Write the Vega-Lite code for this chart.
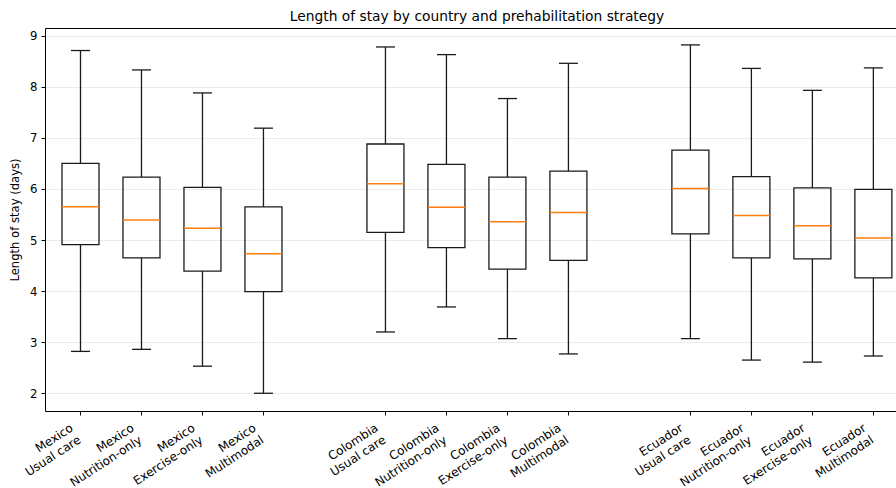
{
  "$schema": "https://vega.github.io/schema/vega-lite/v6.json",
  "width": 851,
  "height": 383,
  "autosize": {"type": "none"},
  "padding": {"left": 45, "top": 28, "right": 0, "bottom": 77},
  "background": "white",
  "title": {
    "text": "Length of stay by country and prehabilitation strategy",
    "font": "DejaVu Sans",
    "fontSize": 13.8,
    "fontWeight": "normal",
    "color": "#000000",
    "anchor": "middle",
    "offset": 4,
    "dx": 6.5
  },
  "config": {
    "view": {"stroke": null},
    "axis": {
      "labelFont": "DejaVu Sans",
      "titleFont": "DejaVu Sans",
      "labelFontSize": 11.7,
      "titleFontSize": 11.6,
      "labelColor": "#000000",
      "titleColor": "#000000",
      "titleFontWeight": "normal",
      "domainColor": "#000000",
      "domainWidth": 1,
      "tickColor": "#000000",
      "tickWidth": 1,
      "tickSize": 4,
      "labelPadding": 4
    }
  },
  "data": {
    "values": [
      {"country": "Mexico", "strategy": "Usual care", "pos": 1, "min": 2.82, "q1": 4.91, "median": 5.65, "q3": 6.50, "max": 8.71},
      {"country": "Mexico", "strategy": "Nutrition-only", "pos": 2, "min": 2.86, "q1": 4.65, "median": 5.39, "q3": 6.23, "max": 8.33},
      {"country": "Mexico", "strategy": "Exercise-only", "pos": 3, "min": 2.53, "q1": 4.39, "median": 5.23, "q3": 6.03, "max": 7.88},
      {"country": "Mexico", "strategy": "Multimodal", "pos": 4, "min": 2.00, "q1": 3.99, "median": 4.73, "q3": 5.65, "max": 7.19},
      {"country": "Colombia", "strategy": "Usual care", "pos": 6, "min": 3.20, "q1": 5.15, "median": 6.10, "q3": 6.88, "max": 8.78},
      {"country": "Colombia", "strategy": "Nutrition-only", "pos": 7, "min": 3.69, "q1": 4.85, "median": 5.64, "q3": 6.48, "max": 8.63},
      {"country": "Colombia", "strategy": "Exercise-only", "pos": 8, "min": 3.07, "q1": 4.43, "median": 5.36, "q3": 6.23, "max": 7.77},
      {"country": "Colombia", "strategy": "Multimodal", "pos": 9, "min": 2.77, "q1": 4.60, "median": 5.54, "q3": 6.35, "max": 8.46},
      {"country": "Ecuador", "strategy": "Usual care", "pos": 11, "min": 3.07, "q1": 5.12, "median": 6.01, "q3": 6.76, "max": 8.82},
      {"country": "Ecuador", "strategy": "Nutrition-only", "pos": 12, "min": 2.65, "q1": 4.65, "median": 5.48, "q3": 6.24, "max": 8.36},
      {"country": "Ecuador", "strategy": "Exercise-only", "pos": 13, "min": 2.61, "q1": 4.63, "median": 5.28, "q3": 6.02, "max": 7.93},
      {"country": "Ecuador", "strategy": "Multimodal", "pos": 14, "min": 2.73, "q1": 4.26, "median": 5.04, "q3": 5.99, "max": 8.37}
    ]
  },
  "resolve": {"axis": {"x": "independent"}},
  "layer": [
    {
      "mark": {"type": "rule", "color": "#1a1a1a", "strokeWidth": 1.3},
      "encoding": {
        "x": {"field": "pos", "type": "quantitative", "scale": {"domain": [0.5, 14.289], "nice": false, "zero": false}, "axis": null},
        "y": {"field": "min", "type": "quantitative", "scale": {"domain": [1.653, 9.151], "nice": false, "zero": false},
              "axis": {"title": "Length of stay (days)", "values": [2, 3, 4, 5, 6, 7, 8, 9], "grid": true, "gridColor": "#ebebeb", "gridWidth": 1, "titlePadding": 9}},
        "y2": {"field": "q1"}
      }
    },
    {
      "mark": {"type": "rule", "color": "#1a1a1a", "strokeWidth": 1.3},
      "encoding": {
        "x": {"field": "pos", "type": "quantitative", "axis": null},
        "y": {"field": "q3", "type": "quantitative",
              "axis": {"title": "Length of stay (days)", "values": [2, 3, 4, 5, 6, 7, 8, 9], "grid": true, "gridColor": "#ebebeb", "gridWidth": 1, "titlePadding": 9}},
        "y2": {"field": "max"}
      }
    },
    {
      "mark": {"type": "tick", "orient": "horizontal", "color": "#1a1a1a", "size": 19, "thickness": 1.3, "opacity": 1},
      "encoding": {
        "x": {"field": "pos", "type": "quantitative", "axis": null},
        "y": {"field": "min", "type": "quantitative",
              "axis": {"title": "Length of stay (days)", "values": [2, 3, 4, 5, 6, 7, 8, 9], "grid": true, "gridColor": "#ebebeb", "gridWidth": 1, "titlePadding": 9}}
      }
    },
    {
      "mark": {"type": "tick", "orient": "horizontal", "color": "#1a1a1a", "size": 19, "thickness": 1.3, "opacity": 1},
      "encoding": {
        "x": {"field": "pos", "type": "quantitative", "axis": null},
        "y": {"field": "max", "type": "quantitative",
              "axis": {"title": "Length of stay (days)", "values": [2, 3, 4, 5, 6, 7, 8, 9], "grid": true, "gridColor": "#ebebeb", "gridWidth": 1, "titlePadding": 9}}
      }
    },
    {
      "mark": {"type": "bar", "size": 37, "fill": null, "fillOpacity": 0, "stroke": "#1a1a1a", "strokeWidth": 1.3},
      "encoding": {
        "x": {"field": "pos", "type": "quantitative",
              "axis": {"orient": "bottom", "title": null, "grid": false, "values": [1, 2, 3, 4, 6, 7, 8, 9, 11, 12, 13, 14],
                       "labelAngle": -33, "labelAlign": "right", "labelBaseline": "top", "labelOffset": -12, "labelLineHeight": 14.3,
                       "labelFontSize": 12, "labelPadding": 7,
                       "labelOverlap": false, "labelBound": false, "labelFlush": false,
                       "labelExpr": "[['Mexico','Colombia','Ecuador'][floor((datum.value-1)/5)], ['Usual care','Nutrition-only','Exercise-only','Multimodal'][(datum.value-1)%5]]"}},
        "y": {"field": "q1", "type": "quantitative",
              "axis": {"title": "Length of stay (days)", "values": [2, 3, 4, 5, 6, 7, 8, 9], "grid": true, "gridColor": "#ebebeb", "gridWidth": 1, "titlePadding": 9}},
        "y2": {"field": "q3"}
      }
    },
    {
      "mark": {"type": "tick", "orient": "horizontal", "color": "#ff7f0e", "size": 37, "thickness": 1.5, "opacity": 1},
      "encoding": {
        "x": {"field": "pos", "type": "quantitative",
              "axis": {"orient": "top", "title": null, "labels": false, "ticks": false, "grid": false, "domain": true}},
        "y": {"field": "median", "type": "quantitative",
              "axis": {"title": "Length of stay (days)", "values": [2, 3, 4, 5, 6, 7, 8, 9], "grid": true, "gridColor": "#ebebeb", "gridWidth": 1, "titlePadding": 9}}
      }
    }
  ]
}
